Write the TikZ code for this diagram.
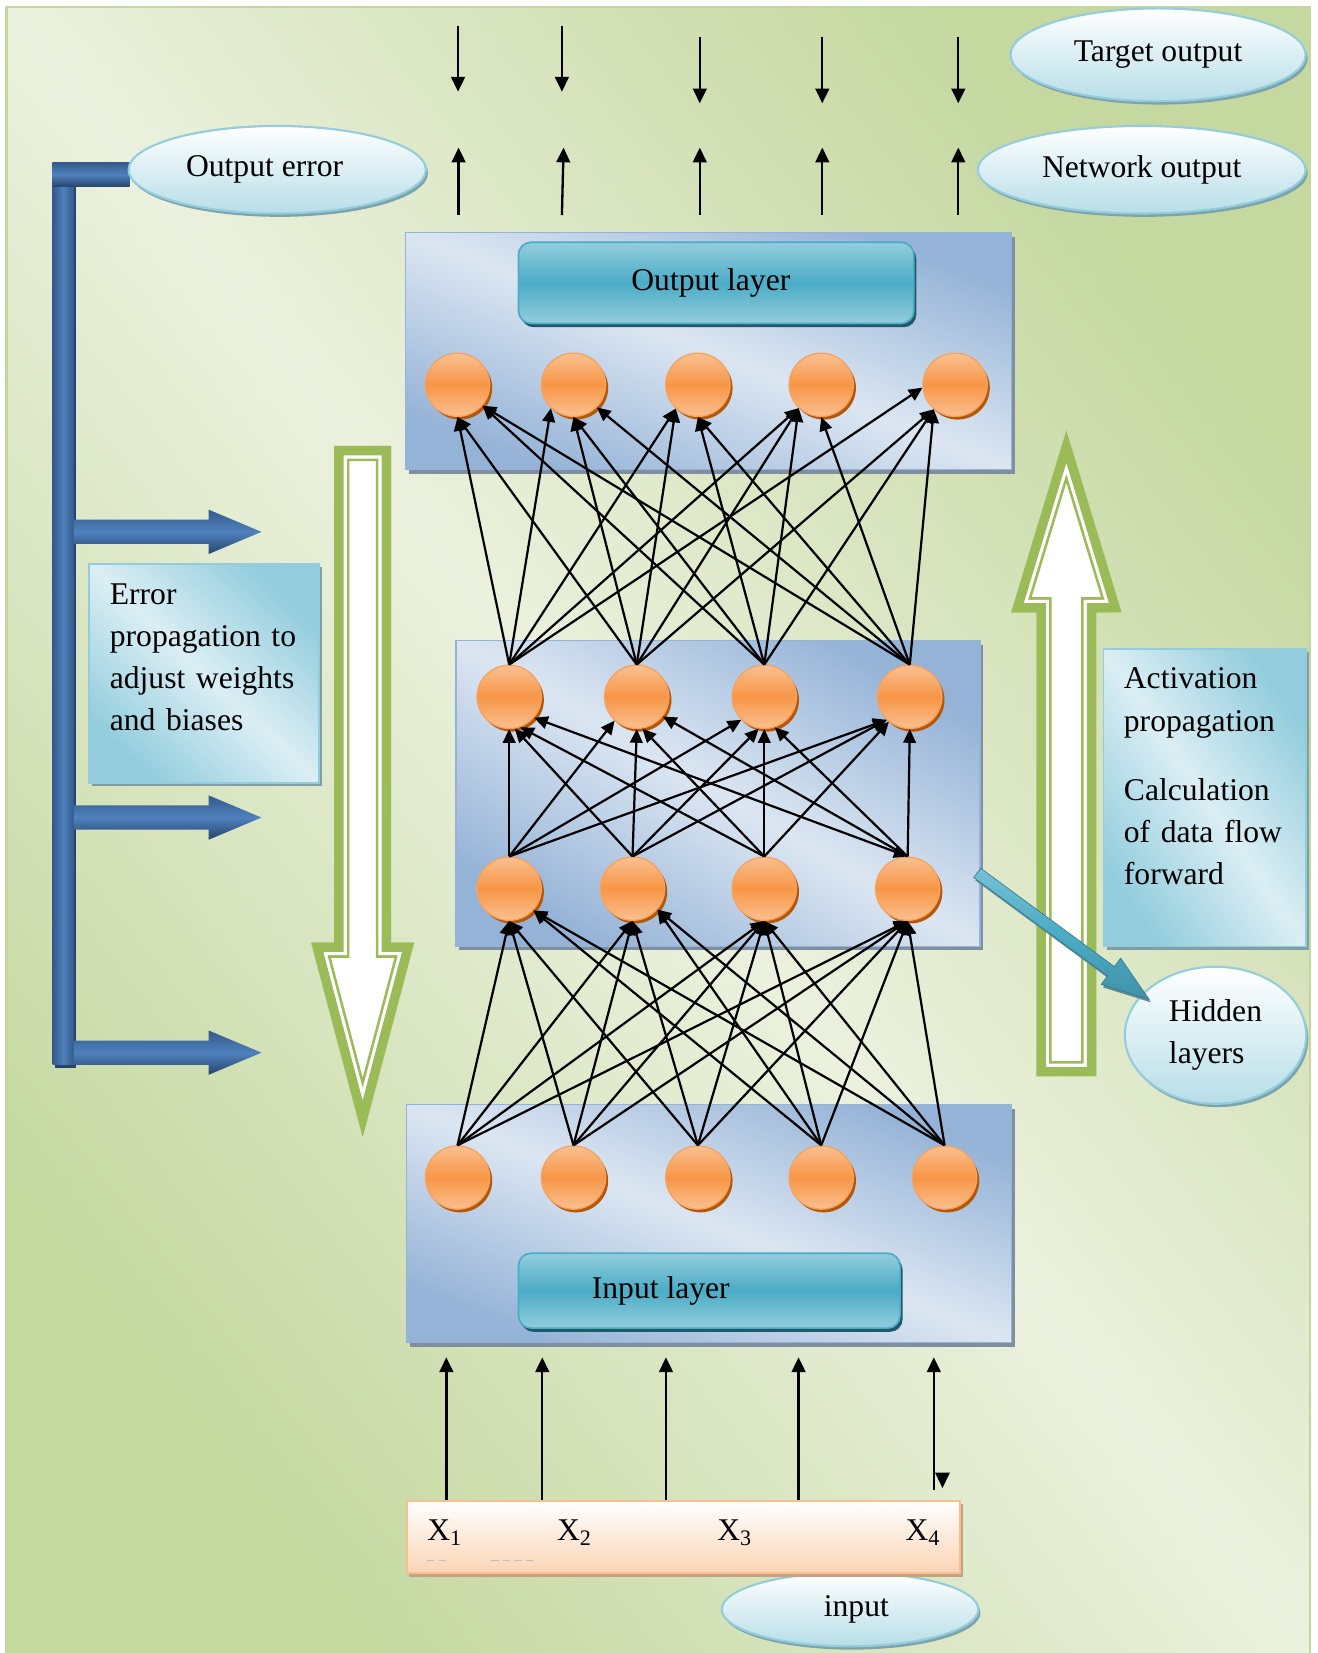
\documentclass[tikz,border=0pt]{standalone}
\usepackage{fontspec}
\setmainfont{Liberation Serif}
\usetikzlibrary{arrows.meta,shapes.geometric,shadows}

% palette
\definecolor{bgGreen}{HTML}{C5D8A0}
\definecolor{bgLight}{HTML}{EBF1DE}
\definecolor{frameGreen}{HTML}{C3D69B}
\definecolor{boxBlue}{HTML}{95B3D7}
\definecolor{boxLight}{HTML}{DCE6F2}
\definecolor{boxShadow}{HTML}{7F8FA0}
\definecolor{tealDark}{HTML}{4BACC6}
\definecolor{tealLight}{HTML}{93CDDD}
\definecolor{tealPale}{HTML}{DBEEF4}
\definecolor{tealShadow}{HTML}{215968}
\definecolor{noteShadow}{HTML}{7F9FA5}
\definecolor{ellBottom}{HTML}{B7DEE8}
\definecolor{ellShadow}{HTML}{7FA3AA}
\definecolor{orMid}{HTML}{F79646}
\definecolor{orLight}{HTML}{FAC090}
\definecolor{orEdge}{HTML}{F5A261}
\definecolor{orShadow}{HTML}{B65708}
\definecolor{arrowGreen}{HTML}{9BBB59}
\definecolor{barDark}{HTML}{345A8B}
\definecolor{barMid}{HTML}{4F81BD}
\definecolor{barDeep}{HTML}{26446E}
\definecolor{peach}{HTML}{FBD4B4}
\definecolor{peachEdge}{HTML}{FABF8F}
\definecolor{peachShadow}{HTML}{C4A283}

\tikzset{
  txt/.style={font=\fontsize{15pt}{20pt}\selectfont, inner sep=0pt},
  % light band along the box diagonal, darker towards two opposite corners
  diagfill/.style n args={3}{top color=#2, bottom color=#2, middle color=#1, shading angle=#3},
  layerbox/.style={rectangle, anchor=north west, inner sep=0pt, draw=boxBlue, line width=0.6pt,
    general shadow={fill=boxShadow, shadow xshift=1.5pt, shadow yshift=-2pt}},
  notebox/.style={rectangle, anchor=north west, inner sep=0pt, draw=tealLight, line width=0.8pt,
    general shadow={fill=noteShadow, shadow xshift=1.5pt, shadow yshift=-1.5pt}},
  tagbox/.style={rectangle, rounded corners=6pt, anchor=north west, inner sep=0pt, txt,
    draw=tealDark, line width=0.8pt,
    top color=tealLight, bottom color=tealLight, middle color=tealDark,
    general shadow={fill=tealShadow, shadow xshift=1.2pt, shadow yshift=-1.8pt}},
  bubble/.style={ellipse, inner sep=0pt, draw=tealLight, line width=1pt,
    top color=white, bottom color=ellBottom, txt,
    general shadow={fill=ellShadow, shadow xshift=1pt, shadow yshift=-1.6pt}},
  neuron/.style={ellipse, minimum width=30.5pt, minimum height=30pt, inner sep=0pt,
    draw=orEdge, line width=0.6pt, top color=orLight, bottom color=orLight, middle color=orMid,
    general shadow={fill=orShadow, shadow xshift=1.2pt, shadow yshift=-1.5pt}},
  link/.style={line width=1.05pt, -{Triangle[length=6.5pt,width=6pt]}},
  flow/.style={line width=1.1pt, -{Triangle[length=7pt,width=6.5pt]}},
}

% hollow block arrow with a thick outer band and a thin inner line
\newcommand\hollowarrow[1]{%
  \begin{scope}
    \clip #1;
    \fill[white] #1;
    \draw[arrowGreen, line width=14.5pt] #1;
    \draw[white, line width=12pt] #1;
    \draw[arrowGreen, line width=9pt] #1;
  \end{scope}}

\begin{document}
\begin{tikzpicture}[x=0.5pt,y=-0.5pt]
\useasboundingbox (0,0) rectangle (1250,1568);
\fill[white] (0,0) rectangle (1250,1568);

% background panel
\shade[diagfill={bgLight}{bgGreen}{-51.6}] (6,6.5) rectangle (1242.5,1568);
\draw[frameGreen, line width=1.2pt] (6,6.5) rectangle (1242.5,1575);

% backward / forward direction arrows
\hollowarrow{(317,423) -- (371,423) -- (371,894) -- (393,894) -- (344,1079) -- (295,894) -- (317,894) -- cycle}
\hollowarrow{(983,1021) -- (1040,1021) -- (1040,581) -- (1064,581) -- (1011.5,408) -- (959,581) -- (983,581) -- cycle}

% error feedback bracket
\fill[barDeep] (52,157) rectangle (72,1013);
\shade[left color=barDark, right color=barDark, middle color=barMid] (50,154) rectangle (70,1010);
\shade[top color=barDark, bottom color=barDeep, middle color=barMid] (50,154) rectangle (123,177);
\foreach \c in {504.5,775.5,998.5} {
  \shade[top color=barDark, bottom color=barDeep, middle color=barMid]
    (70,\c-11.5) -- (198,\c-11.5) -- (198,\c-21) -- (248,\c) -- (198,\c+21)
    -- (198,\c+11.5) -- (70,\c+11.5) -- cycle;
}

% layer panels
\node[layerbox, diagfill={boxLight}{boxBlue}{-21.4}, minimum width=287.5pt, minimum height=112.5pt]
  (outbox) at (384,220) {};
\node[layerbox, diagfill={boxLight}{boxBlue}{-30.3}, minimum width=248.5pt, minimum height=145pt]
  (hidbox) at (432,607) {};
\node[layerbox, diagfill={boxLight}{boxBlue}{-21.5}, minimum width=287pt, minimum height=113pt]
  (inbox) at (385,1047) {};

\node[tagbox, minimum width=187.5pt, minimum height=38.5pt] (outtag) at (491,229)
  {Output layer\hspace*{5pt}};
\node[tagbox, minimum width=181pt, minimum height=35.5pt] (intag) at (491,1188)
  {Input layer\hspace*{46pt}};

% side notes
\node[notebox, diagfill={tealPale}{tealLight}{-43.6}, minimum width=109pt, minimum height=103.75pt]
  (errbox) at (83.5,534.5) {};
\node[txt, anchor=base west, text width=89pt, align=left] (errtext) at (103.8,573)
  {Error\\\makebox[89pt][s]{propagation to}\\\makebox[89pt][s]{adjust weights}\\and biases};
\node[notebox, diagfill={tealPale}{tealLight}{-55.7}, minimum width=96pt, minimum height=141pt]
  (actbox) at (1046,615) {};
\node[txt, anchor=base west, text width=82pt, align=left] (acttext) at (1065.7,653.5)
  {Activation\\propagation\\[12.8pt]Calculation\\\makebox[76.5pt][s]{of data flow}\\forward};

% neurons
\foreach \n/\x in {1/434,2/544,3/662,4/779,5/906}
  \node[neuron] (o\n) at (\x,365) {};
\foreach \n/\x in {1/483,2/604,3/725,4/863}
  \node[neuron] (hb\n) at (\x,661) {};
\foreach \n/\x in {1/483,2/600,3/725,4/861}
  \node[neuron] (ha\n) at (\x,843) {};
\foreach \n/\x in {1/434,2/544,3/662,4/779,5/896}
  \node[neuron] (i\n) at (\x,1117) {};

% input layer -> first hidden layer
\foreach \s/\t/\a in {1/1/south,2/1/south,3/1/south,4/1/-42,5/1/-42,
                      1/2/south,2/2/south,3/2/south,4/2/-40,5/2/-40,
                      1/3/south,2/3/south,3/3/south,4/3/south,5/3/south,
                      1/4/south,2/4/south,3/4/south,4/4/south,5/4/south}
  \draw[link] (i\s.north) -- (ha\t.\a);

% first hidden layer -> second hidden layer
\foreach \s/\t/\a in {1/1/south,2/1/-80,3/1/-70,
                      1/2/-133,2/2/south,3/2/-80,4/2/-37,
                      1/3/-135,2/3/-100,3/3/south,4/3/-71,
                      1/4/-135,2/4/-135,3/4/-130,4/4/south}
  \draw[link] (ha\s.north) -- (hb\t.\a);
\draw[link, {Triangle[length=6.5pt,width=6pt]}-{Triangle[length=6.5pt,width=6pt]}]
  (ha4.north) -- (hb1.-40);

% second hidden layer -> output layer
\foreach \s/\t/\a in {1/1/south,2/1/south,3/1/-40,4/1/-40,
                      1/2/-134,2/2/south,3/2/south,4/2/-44,
                      1/3/-133,2/3/-133,3/3/south,4/3/south,
                      1/4/-134,2/4/-134,3/4/-134,4/4/south,
                      1/5/-175,2/5/-131,3/5/-131,4/5/-131}
  \draw[link] (hb\s.north) -- (o\t.\a);

% labels
\node[bubble, minimum width=140pt, minimum height=44pt] (target) at (1098.5,52) {Target output};
\node[bubble, minimum width=155.5pt, minimum height=41.5pt] (netout) at (1083,161) {Network output};
\node[bubble, minimum width=141pt, minimum height=41.5pt] (outerr) at (263,161)
  {Output error\hspace*{12pt}};
\node[bubble, minimum width=86pt, minimum height=65pt, align=left,
      font=\fontsize{15pt}{19.75pt}\selectfont] (hidlab) at (1153,982) {Hidden\\layers\hspace*{3pt}};
\node[bubble, minimum width=121.7pt, minimum height=35pt] (inlab) at (806.3,1526.6)
  {\hspace*{6pt}input};

% pointer from the hidden panel to its label
\path[top color=tealLight!60!tealDark, bottom color=tealDark!85!black, middle color=tealDark,
      draw=tealDark!70!black, line width=0.3pt,
      general shadow={fill=tealShadow!70, shadow xshift=0.8pt, shadow yshift=-1.4pt}]
  (930.3,823.6) -- (1057.1,916.9) -- (1063,908.8) -- (1090,948) -- (1044.6,933.8)
  -- (1050.5,925.7) -- (923.7,832.4) -- cycle;

% target values and network outputs
\foreach \n/\x/\ya/\yb in {1/434.5/25/87,2/533/25/87,3/663.8/35/98,4/780/35/98,5/909/35/98} {
  \coordinate (ts\n) at (\x,\ya);
  \coordinate (te\n) at (\x,\yb);
  \draw[flow] (ts\n) -- (te\n);
}
\foreach \n/\xa/\xb in {1/435/435,2/533/534.6,3/663.8/663.8,4/780/780,5/909/909} {
  \coordinate (us\n) at (\xa,204);
  \coordinate (ue\n) at (\xb,140);
  \draw[flow] (us\n) -- (ue\n);
}

% input vector
\node[rectangle, anchor=north west, inner sep=0pt, minimum width=262.5pt, minimum height=34.3pt,
      draw=peachEdge, line width=0.9pt, top color=white, bottom color=peach,
      general shadow={fill=peachShadow, shadow xshift=1.2pt, shadow yshift=-1.5pt}]
  (xbox) at (385,1423) {};
\node[txt, anchor=base west] (x1) at (405,1461.4) {X\textsubscript{1}};
\node[txt, anchor=base west] (x2) at (528,1461.4) {X\textsubscript{2}};
\node[txt, anchor=base west] (x3) at (680,1461.4) {X\textsubscript{3}};
\node[txt, anchor=base west] (x4) at (858.6,1461.4) {X\textsubscript{4}};
\draw[black!25, line width=0.4pt, dash pattern=on 3.5pt off 2pt] (405,1480.6) -- (426,1480.6);
\draw[black!25, line width=0.4pt, dash pattern=on 3.5pt off 2pt] (466,1480.6) -- (508,1480.6);

\foreach \n/\x in {1/423.4,2/514.4,3/631.7,4/757.5} {
  \coordinate (xa\n) at (\x,1423);
  \coordinate (xt\n) at (\x,1287.5);
  \draw[flow] (xa\n) -- (xt\n);
}
\coordinate (xa5) at (885.8,1413);
\coordinate (xt5) at (885.8,1287.5);
\draw[flow] (xa5) -- (xt5);
\fill (887,1397) -- (901,1397) -- (894,1411.5) -- cycle;

\end{tikzpicture}
\end{document}
